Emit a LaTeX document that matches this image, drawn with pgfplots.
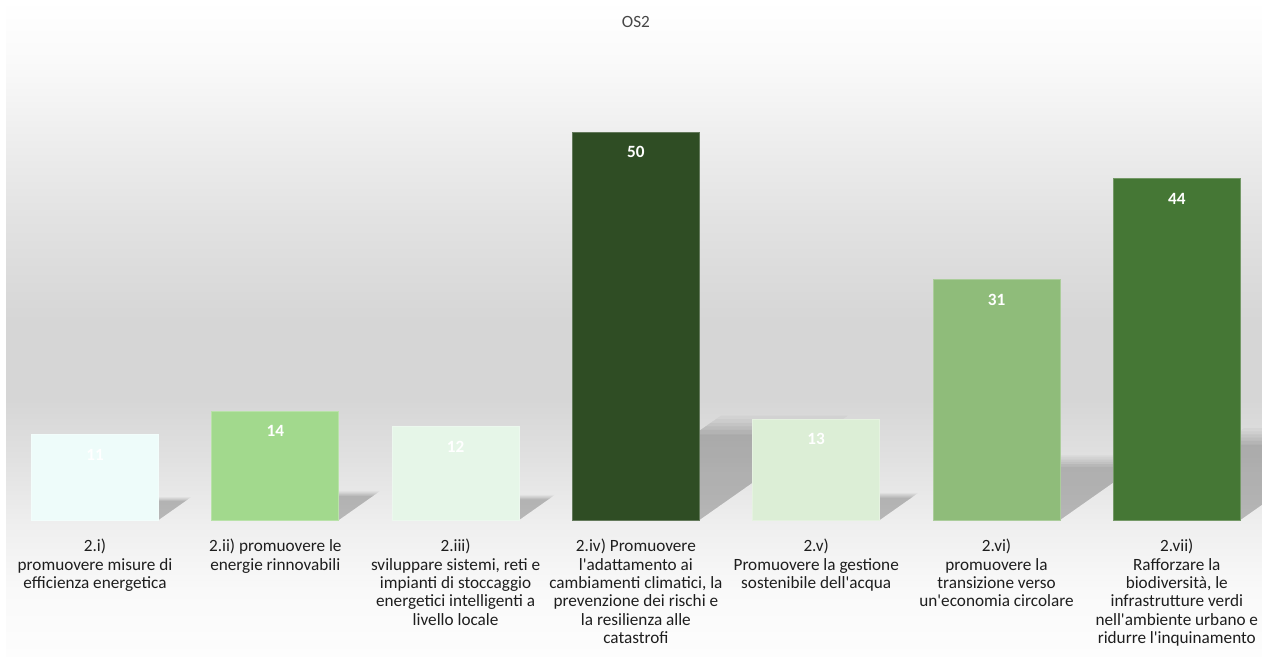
\documentclass[border=0pt]{standalone}
\usepackage{pgfplots}
\usepackage{pgfplotstable}
\pgfplotsset{compat=1.18}
\usepackage{fontspec}
\setmainfont{Carlito}

% bar colours
\definecolor{c0}{RGB}{238,252,250}
\definecolor{c1}{RGB}{162,217,141}
\definecolor{c2}{RGB}{230,246,232}
\definecolor{c3}{RGB}{47,77,36}
\definecolor{c4}{RGB}{220,238,214}
\definecolor{c5}{RGB}{143,188,122}
\definecolor{c6}{RGB}{69,119,53}
\definecolor{labeltext}{RGB}{30,30,30}
\definecolor{titletext}{RGB}{70,70,70}

% grey background band, darkest a little above the baseline
\definecolor{g255}{RGB}{255,255,255}
\definecolor{g253}{RGB}{253,253,253}
\definecolor{g250}{RGB}{250,250,250}
\definecolor{g249}{RGB}{249,249,249}
\definecolor{g239}{RGB}{239,239,239}
\definecolor{g238}{RGB}{238,238,238}
\definecolor{g226}{RGB}{226,226,226}
\definecolor{g225}{RGB}{225,225,225}
\definecolor{g214}{RGB}{214,214,214}
\pgfdeclareverticalshading{bgshade}{100bp}{%
  color(0bp)=(g253); color(25bp)=(g253); color(30.1bp)=(g249);
  color(35.4bp)=(g238); color(40bp)=(g225); color(44.6bp)=(g214);
  color(50.6bp)=(g214); color(58.3bp)=(g226); color(65.1bp)=(g239);
  color(70.4bp)=(g250); color(75bp)=(g255); color(100bp)=(g255)}

\newcommand{\q}{\textquotesingle}

\pgfplotstableread{
x v
0 11
1 14
2 12
3 50
4 13
5 31
6 44
}\os

\begin{document}
\begin{tikzpicture}
\fill[white] (0,0) rectangle (631pt,328.5pt);
\shade[shading=bgshade] (3pt,0) rectangle (631pt,328.5pt);
\begin{axis}[
  scale only axis,
  width=631.05pt, height=249pt,
  at={(2.425pt,68.5pt)}, anchor=south west,
  xmin=-0.5, xmax=6.5, ymin=0, ymax=64.18,
  clip=false,
  axis line style={draw=none},
  major tick length=0pt,
  ytick=\empty,
  xtick={0,...,6},
  xticklabels={
    {2.i)\\promuovere misure di\\efficienza energetica},
    {2.ii) promuovere le\\energie rinnovabili},
    {2.iii)\\sviluppare sistemi, reti e\\impianti di stoccaggio\\energetici intelligenti a\\livello locale},
    {2.iv) Promuovere\\l\q adattamento ai\\cambiamenti climatici, la\\prevenzione dei rischi e\\la resilienza alle\\catastrofi},
    {2.v)\\Promuovere la gestione\\sostenibile dell\q acqua},
    {2.vi)\\promuovere la\\transizione verso\\un\q economia circolare},
    {2.vii)\\Rafforzare la\\biodiversità, le\\infrastrutture verdi\\nell\q ambiente urbano e\\ridurre l\q inquinamento}},
  xticklabel style={align=center, anchor=north, inner sep=0pt, yshift=-9.5pt,
    font=\fontsize{8.6}{9.15}\selectfont, text=labeltext},
  /pgf/number format/assume math mode=true,
  nodes near coords align={center},
  every node near coord/.append style={font=\bfseries\fontsize{8.6}{10}\selectfont,
    text=white, inner sep=0pt, yshift=-10pt},
]
% floor shadows cast to the upper right of each bar, softened by stacking
\pgfplotsinvokeforeach{0,...,6}{
  \pgfplotstablegetelem{#1}{v}\of\os
  \pgfmathsetmacro\sh{0.232*\pgfplotsretval}
  \pgfmathsetmacro\sx{0.0142*\pgfplotsretval}
  \foreach \g/\op in {1.16/0.03,1.12/0.03,1.08/0.04,1.04/0.04,1.0/0.05,0.95/0.05}{
    \pgfmathsetmacro\xl{#1-0.352}
    \pgfmathsetmacro\xr{#1+0.352}
    \pgfmathsetmacro\xrt{#1+0.352+\sx*\g}
    \pgfmathsetmacro\xlt{#1-0.352+\sx*\g}
    \pgfmathsetmacro\yt{\sh*\g}
    \edef\doshadow{\noexpand\addplot[draw=none, fill=black, fill opacity=\op]
      coordinates {(\xl,0) (\xr,0) (\xrt,\yt) (\xlt,\yt)};}
    \doshadow
  }
}
% the bars with their values
\pgfplotsinvokeforeach{0,...,6}{
  \pgfplotstablegetelem{#1}{v}\of\os
  \edef\dobar{\noexpand\addplot[ybar, bar width=63.5pt, bar shift=0pt,
    fill=c#1, draw=c#1!75!white, line width=0.4pt, nodes near coords]
    coordinates {(#1,\pgfplotsretval)};}
  \dobar
}
% chart title, centred on the top edge of the plot area
\node[anchor=center, inner sep=0pt, text=titletext,
  font=\fontsize{8.6}{10}\selectfont] at (rel axis cs:0.5,1) {OS2};
\end{axis}
\pgfresetboundingbox
\useasboundingbox (0,0) rectangle (631pt,328.5pt);
\end{tikzpicture}
\end{document}
